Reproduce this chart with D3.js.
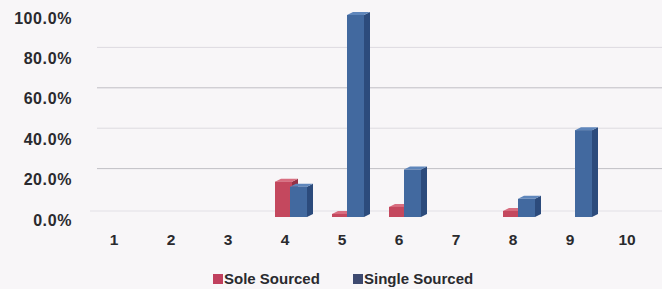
<!DOCTYPE html>
<html>
<head>
<meta charset="utf-8">
<script src="https://cdn.jsdelivr.net/npm/d3@7"></script>
<style>
  html, body { margin: 0; padding: 0; background: #f8f6f8; }
  svg { display: block; font-family: "Liberation Sans", Arial, sans-serif; }
</style>
</head>
<body>
<div id="chart"></div>
<script>
const categories = ['1', '2', '3', '4', '5', '6', '7', '8', '9', '10'];
const soleSourced = [0, 0, 0, 17.5, 1.5, 5.0, 0, 3.0, 0, 0];
const singleSourced = [0, 0, 0, 15.0, 100, 23.5, 0, 9.0, 43.0, 0];
const yTicks = [0, 20, 40, 60, 80, 100];
const seriesNames = ['Sole Sourced', 'Single Sourced'];

const width = 662, height = 289;
const depthX = 6, depthY = -3;   // 3D offset of the bar sides
const wallShift = -8;             // back wall gridlines sit above the front scale

const colors = [
  { front: '#c4485e', side: '#943146', top: '#d86e80', legend: '#c0405e' },
  { front: '#42699f', side: '#2c4b7c', top: '#5f86bb', legend: '#3e4a70' }
];

const svg = d3.select('#chart')
  .append('svg')
  .attr('width', width)
  .attr('height', height);

svg.append('rect')
  .attr('width', width)
  .attr('height', height)
  .attr('fill', '#f8f6f8');

const x = d3.scaleBand()
  .domain(categories)
  .range([85.5, 655.5]);

const y = d3.scaleLinear()
  .domain([0, 100])
  .range([217, 15]);

// Back wall gridlines (top one is hidden in the original)
svg.append('g')
  .selectAll('line')
  .data(yTicks.filter(d => d > 0 && d < 100))
  .join('line')
  .attr('x1', 97)
  .attr('x2', width)
  .attr('y1', d => y(d) + wallShift)
  .attr('y2', d => y(d) + wallShift)
  .attr('stroke', d => d % 40 === 0 ? '#dddbe0' : '#c0bfc5')
  .attr('stroke-width', 1);

// floor line
svg.append('line')
  .attr('x1', 90).attr('x2', width)
  .attr('y1', y(0) - 6).attr('y2', y(0) - 6)
  .attr('stroke', '#e2e0e6');

// Y axis labels
svg.append('g')
  .selectAll('text')
  .data(yTicks)
  .join('text')
  .attr('x', 72)
  .attr('y', d => y(d) + 3)
  .attr('dy', '0.35em')
  .attr('text-anchor', 'end')
  .attr('font-size', 16)
  .attr('font-weight', 'bold')
  .attr('letter-spacing', 0.6)
  .attr('fill', '#2a2a2e')
  .text(d => d3.format('.1f')(d) + '%');

// X axis labels
svg.append('g')
  .selectAll('text')
  .data(categories)
  .join('text')
  .attr('x', d => x(d) + x.bandwidth() / 2)
  .attr('y', 240)
  .attr('dy', '0.35em')
  .attr('text-anchor', 'middle')
  .attr('font-size', 15.5)
  .attr('font-weight', 'bold')
  .attr('fill', '#2a2a2e')
  .text(d => d);

// 3D bars
const barW = 17;
const offsets = [-10, 5];
const bars = [];
categories.forEach((c, i) => {
  [soleSourced[i], singleSourced[i]].forEach((v, s) => {
    if (v > 0) bars.push({ c, v, s });
  });
});

const barG = svg.append('g')
  .selectAll('g')
  .data(bars)
  .join('g');

barG.each(function (d) {
  const g = d3.select(this);
  const x0 = x(d.c) + x.bandwidth() / 2 + offsets[d.s];
  const x1 = x0 + barW;
  const yt = y(d.v);
  const yb = y(0);
  const col = colors[d.s];
  // side face
  g.append('path')
    .attr('d', `M${x1},${yb}L${x1 + depthX},${yb + depthY}L${x1 + depthX},${yt + depthY}L${x1},${yt}Z`)
    .attr('fill', col.side);
  // top face
  g.append('path')
    .attr('d', `M${x0},${yt}L${x0 + depthX},${yt + depthY}L${x1 + depthX},${yt + depthY}L${x1},${yt}Z`)
    .attr('fill', col.top);
  // front face
  g.append('rect')
    .attr('x', x0)
    .attr('y', yt)
    .attr('width', barW)
    .attr('height', yb - yt)
    .attr('fill', col.front);
});

// Legend
const legendX = [213, 353];
const legend = svg.append('g')
  .selectAll('g')
  .data(seriesNames)
  .join('g')
  .attr('transform', (d, i) => `translate(${legendX[i]},279)`);

legend.append('rect')
  .attr('x', 0)
  .attr('y', -5)
  .attr('width', 10)
  .attr('height', 10)
  .attr('fill', (d, i) => colors[i].legend);

legend.append('text')
  .attr('x', 11)
  .attr('y', 0)
  .attr('dy', '0.35em')
  .attr('font-size', 15)
  .attr('font-weight', 'bold')
  .attr('fill', '#2a2a2e')
  .text(d => d);
</script>
</body>
</html>
